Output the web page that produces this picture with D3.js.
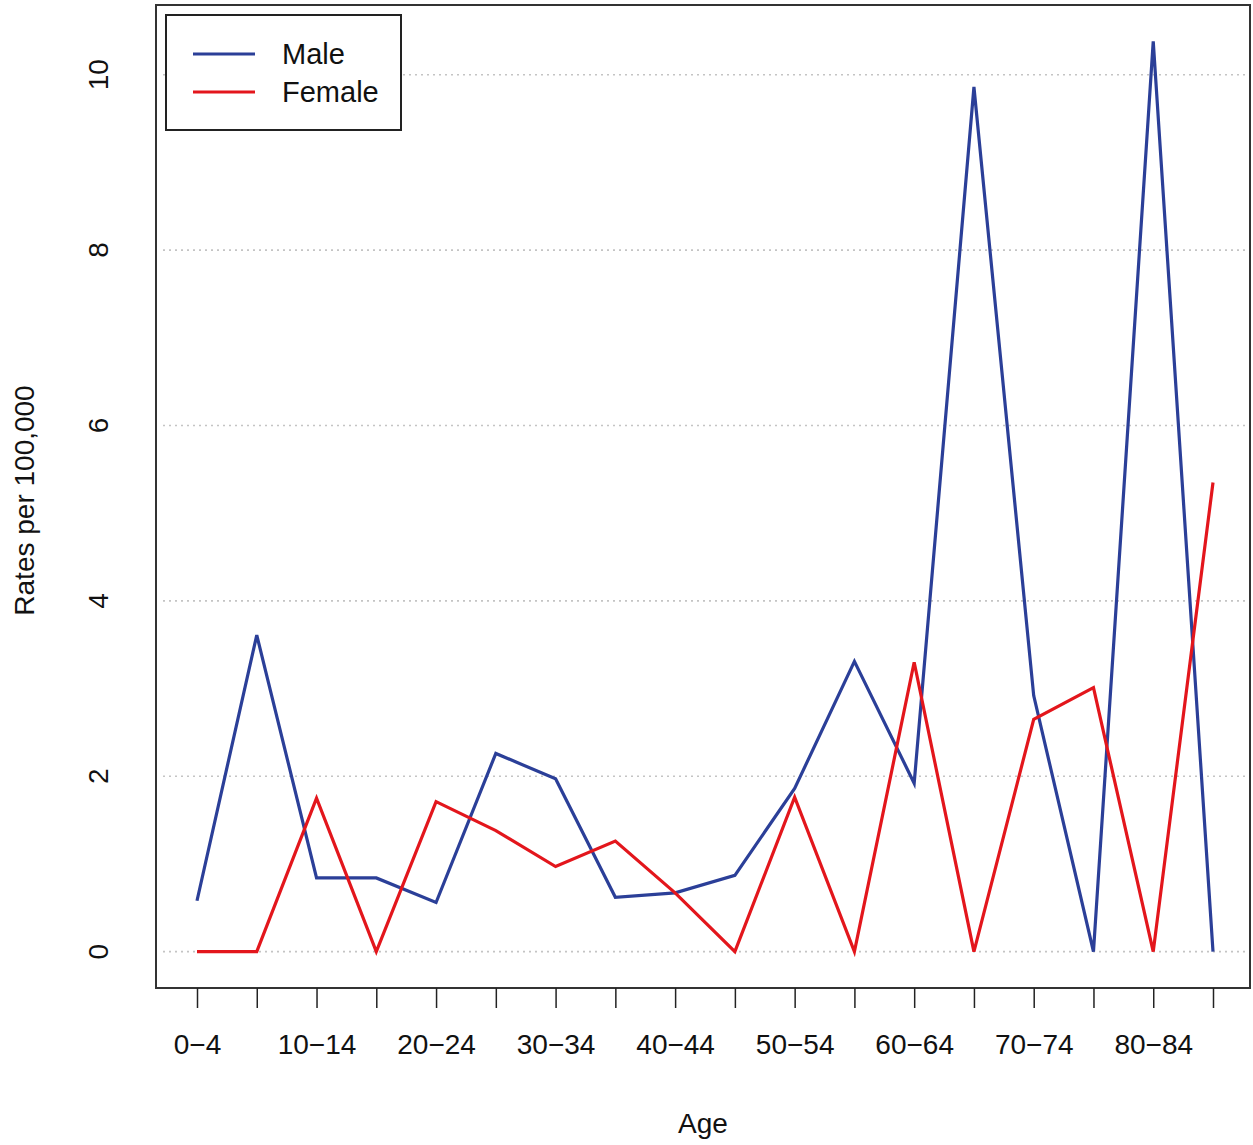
<!DOCTYPE html>
<html><head><meta charset="utf-8">
<script src="https://cdn.jsdelivr.net/npm/d3@7"></script>
<style>body{margin:0;background:#fff}svg{display:block}text{font-family:"Liberation Sans",Arial,sans-serif;fill:#111}</style>
</head><body><svg id="c" width="1253" height="1145"></svg>
<script>
const categories = ["0-4","5-9","10-14","15-19","20-24","25-29","30-34","35-39","40-44","45-49","50-54","55-59","60-64","65-69","70-74","75-79","80-84","85+"];
const maleRates = [0.58,3.61,0.84,0.84,0.56,2.26,1.97,0.62,0.67,0.87,1.86,3.31,1.92,9.86,2.92,0,10.38,0];
const femaleRates = [0,0,1.75,0,1.71,1.38,0.97,1.26,0.67,0,1.76,0,3.30,0,2.65,3.01,0,5.35];
const yTicks = [0,2,4,6,8,10];
const shownLabels = ["0-4","10-14","20-24","30-34","40-44","50-54","60-64","70-74","80-84"];
const seriesNames = ["Male","Female"];
const seriesColors = ["#2b3f98","#e3161c"];

const svg = d3.select("#c");
const box = {l:156, r:1250, t:5, b:988};
const x = d3.scalePoint().domain(categories).range([197,1213]);
const y = d3.scaleLinear().domain([-0.415,10.795]).range([box.b, box.t]);

// grid
svg.append("g").selectAll("line").data(yTicks).join("line")
  .attr("x1", box.l+7).attr("x2", box.r).attr("y1", d=>y(d)).attr("y2", d=>y(d))
  .attr("stroke","#c4c4c4").attr("stroke-width",1.6).attr("stroke-dasharray","2,4");

// lines
const line = d3.line().x((d,i)=>x(categories[i])).y(d=>y(d));
[maleRates,femaleRates].forEach((s,k)=>{
  svg.append("path").datum(s).attr("d",line).attr("fill","none")
    .attr("stroke",seriesColors[k]).attr("stroke-width",3.2).attr("stroke-linejoin","miter");
});

// frame
svg.append("rect").attr("x",box.l).attr("y",box.t).attr("width",box.r-box.l).attr("height",box.b-box.t)
  .attr("fill","none").attr("stroke","#333").attr("stroke-width",2);

// x axis
const xa = svg.append("g").attr("transform",`translate(0,${box.b})`)
  .call(d3.axisBottom(x).tickSize(20).tickPadding(26).tickFormat(d=>shownLabels.includes(d)? d.replace("-","\u2212") : ""));
xa.select(".domain").remove();
xa.selectAll(".tick line").attr("stroke","#222").attr("stroke-width",1.5);
xa.selectAll(".tick text").attr("font-size",28).attr("fill","#111").attr("font-family","Liberation Sans, Arial, sans-serif");

// y axis labels (rotated, no ticks)
svg.append("g").selectAll("text").data(yTicks).join("text")
  .attr("transform", d=>`translate(108,${y(d)}) rotate(-90)`)
  .attr("text-anchor","middle").attr("font-size",28).text(d=>d);

// axis titles
svg.append("text").attr("transform",`translate(34,${(box.t+box.b)/2+4}) rotate(-90)`)
  .attr("text-anchor","middle").attr("font-size",28).text("Rates per 100,000");
svg.append("text").attr("x",(box.l+box.r)/2).attr("y",1133)
  .attr("text-anchor","middle").attr("font-size",28).text("Age");

// legend
const lg = svg.append("g");
lg.append("rect").attr("x",166).attr("y",15).attr("width",235).attr("height",115)
  .attr("fill","#fff").attr("stroke","#222").attr("stroke-width",2);
seriesNames.forEach((n,i)=>{
  const yy = 54 + i*38;
  lg.append("line").attr("x1",193).attr("x2",255).attr("y1",yy).attr("y2",yy)
    .attr("stroke",seriesColors[i]).attr("stroke-width",3.2);
  lg.append("text").attr("x",282).attr("y",yy+10).attr("font-size",29).text(n);
});
</script></body></html>
